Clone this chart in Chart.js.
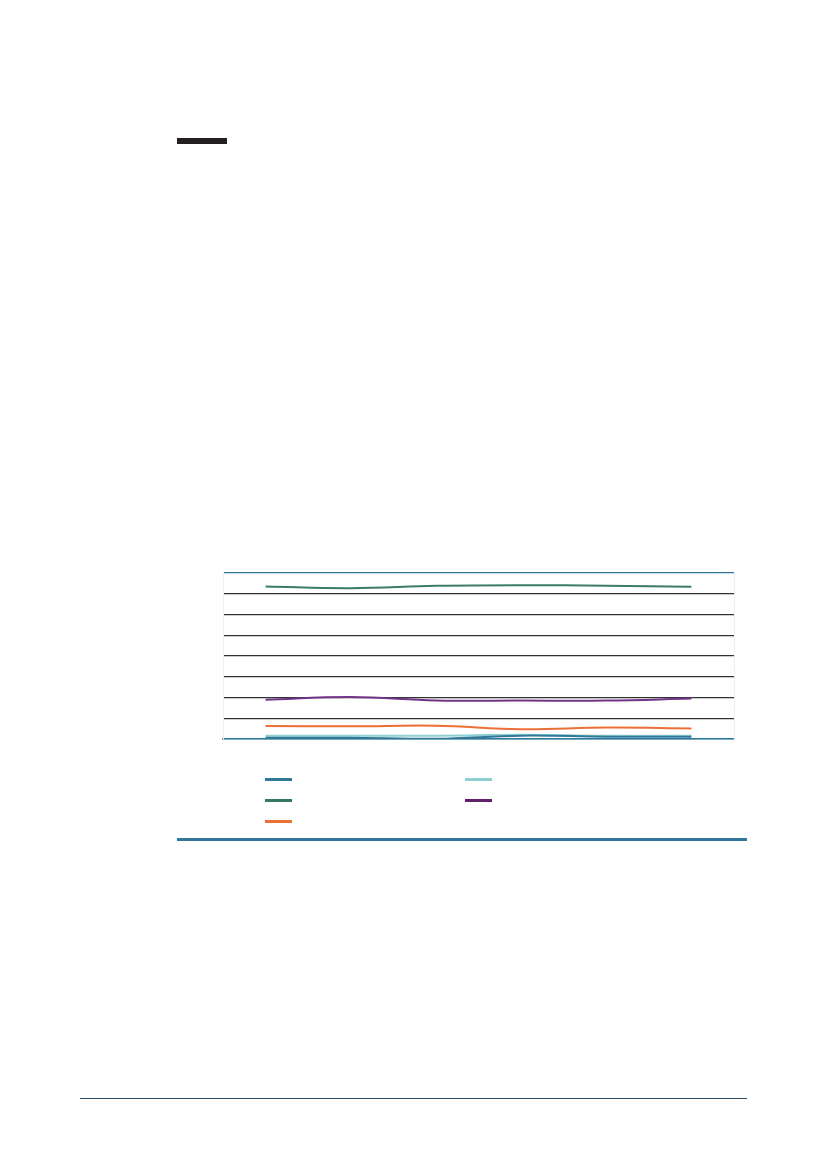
<!DOCTYPE html>
<html>
<head>
<meta charset="utf-8">
<script src="https://cdn.jsdelivr.net/npm/chart.js@4"></script>
<style>
  html, body { margin: 0; padding: 0; background: #fff; }
  body { width: 827px; height: 1169px; position: relative; overflow: hidden; font-family: "Noto Sans", sans-serif; }
  .bar-top { position: absolute; left: 177px; top: 138px; width: 50px; height: 6px; background: #231f20; }
  .rule { position: absolute; left: 177px; top: 838px; width: 570px; height: 3px; background: #2f7899; }
  .foot { position: absolute; left: 80px; top: 1098px; width: 667px; height: 1px; background: #2e4a63; }
  #wrap { position: absolute; left: 221px; top: 571px; width: 515px; height: 170px; }
  #legend { position: absolute; left: 265px; top: 773px; }
  .lg { position: absolute; width: 27px; height: 2.5px; }
</style>
</head>
<body>
<div class="bar-top"></div>
<div id="wrap"><canvas id="grafico"></canvas></div>
<div id="legend"></div>
<div class="rule"></div>
<div class="foot"></div>
<script>
// datos (escala 0-80, 8 divisiones)
const categorias = ['1', '2', '3', '4', '5', '6'];
const series = ['Serie A', 'Serie B', 'Serie C', 'Serie D', 'Serie E'];
const colores = ['#2f7899', '#357866', '#ec6f36', '#8fcfd1', '#60206a'];
const coloresLinea = ['#2f7899', '#3a7a6a', '#ec6f36', '#8fcfd1', '#74338a'];
const serieA = [0.6, 0.6, 0.1, 1.6, 1.1, 1.1];
const serieB = [73.5, 72.7, 73.8, 74.1, 73.9, 73.4];
const serieC = [6.3, 6.1, 6.4, 4.7, 5.5, 5.1];
const serieD = [1.6, 1.6, 1.6, 2.0, 1.6, 1.6];
const serieE = [18.9, 20.2, 18.6, 18.5, 18.5, 19.5];
const valores = [serieA, serieB, serieC, serieD, serieE];
const yMin = 0, yMax = 80, yPaso = 10;

const datasets = series.map(function (nombre, i) {
    return {
        label: nombre,
        data: valores[i],
        borderColor: coloresLinea[i],
        backgroundColor: colores[i],
        borderWidth: 2,
        pointRadius: 0,
        tension: 0.4,
        fill: false
    };
});

const ctx = document.getElementById('grafico').getContext('2d');
const chart = new Chart(ctx, {
    type: 'line',
    data: { labels: categorias, datasets: datasets },
    options: {
        responsive: true,
        maintainAspectRatio: false,
        animation: false,
        layout: { padding: { top: 2, bottom: 2, left: 2, right: 2 } },
        plugins: { legend: { display: false }, tooltip: { enabled: false } },
        scales: {
            x: {
                offset: true,
                grid: { display: false, drawTicks: false },
                ticks: { display: false },
                border: { display: true, color: '#2f7899', width: 1.5 }
            },
            y: {
                min: yMin, max: yMax,
                ticks: { display: false, stepSize: yPaso },
                grid: {
                    drawTicks: false,
                    lineWidth: 1.3,
                    color: function (c) {
                        if (c.tick && (c.tick.value === yMax || c.tick.value === yMin)) return '#2f7899';
                        return '#333333';
                    }
                },
                border: { display: true, color: '#eeeeee', width: 1 }
            },
            y2: {
                position: 'right',
                min: yMin, max: yMax,
                ticks: { display: false },
                grid: { display: false, drawTicks: false },
                border: { display: true, color: '#eeeeee', width: 1 }
            }
        }
    }
});

// leyenda en dos columnas (orden por columna)
const legend = document.getElementById('legend');
chart.data.datasets.forEach(function (ds, i) {
    const el = document.createElement('div');
    el.className = 'lg';
    el.style.background = ds.backgroundColor;
    el.style.left = (i < 3 ? 0 : 200) + 'px';
    el.style.top = ((i % 3) * 21 + 5) + 'px';
    el.title = ds.label;
    legend.appendChild(el);
});
</script>
</body>
</html>
